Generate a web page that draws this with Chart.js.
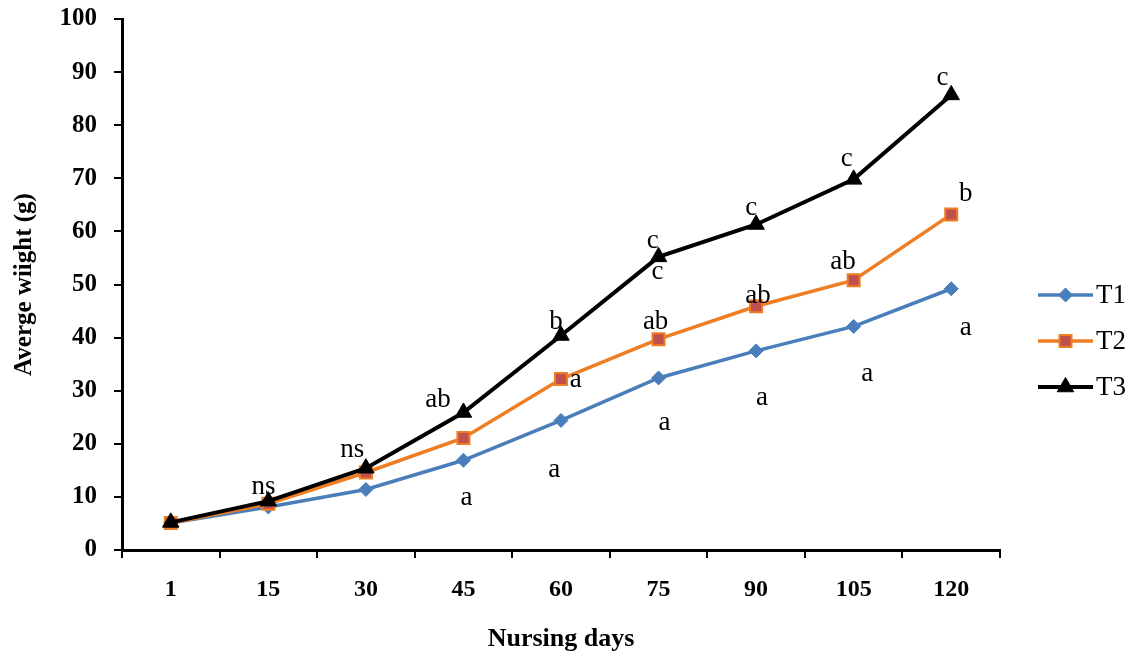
<!DOCTYPE html>
<html>
<head>
<meta charset="utf-8">
<script src="https://cdn.jsdelivr.net/npm/chart.js@4/dist/chart.umd.min.js"></script>
<style>
  html, body { margin: 0; padding: 0; background: #fff; }
  #wrap { width: 1132px; height: 657px; }
</style>
</head>
<body>
<div id="wrap"><canvas id="weightChart"></canvas></div>
<script>
// nursing days on x, mean weight (g) per treatment
const days = ['1', '15', '30', '45', '60', '75', '90', '105', '120'];
const t1 = [5.1, 8.1, 11.4, 16.9, 24.4, 32.4, 37.5, 42.1, 49.2];
const t2 = [5.1, 8.7, 14.6, 21.1, 32.2, 39.7, 45.9, 50.8, 63.2];
const t3 = [5.2, 9.2, 15.4, 25.9, 40.4, 55.2, 61.3, 69.8, 85.7];
const yTicks = [0, 10, 20, 30, 40, 50, 60, 70, 80, 90, 100];

// significance letters: [day index, weight value, text]
const letters = [
    [0.95, 11.9, 'ns'], [1.86, 18.8, 'ns'],
    [2.74, 28.2, 'ab'], [3.03, 9.8, 'a'],
    [3.95, 42.9, 'b'], [4.15, 32.0, 'a'], [3.93, 15.1, 'a'],
    [4.94, 58.2, 'c'], [4.99, 52.4, 'c'], [4.97, 42.9, 'ab'], [5.06, 23.9, 'a'],
    [5.95, 64.4, 'c'], [6.02, 47.8, 'ab'], [6.06, 28.6, 'a'],
    [6.93, 73.6, 'c'], [6.89, 54.2, 'ab'], [7.14, 33.1, 'a'],
    [7.91, 88.9, 'c'], [8.15, 67.0, 'b'], [8.15, 41.8, 'a']
];

const SERIF = '"Liberation Serif", "Times New Roman", serif';

const letterPlugin = {
    id: 'letters',
    afterDatasetsDraw(chart) {
        const { ctx, scales: { x, y } } = chart;
        ctx.save();
        ctx.fillStyle = '#000';
        ctx.font = `27px ${SERIF}`;
        ctx.textAlign = 'center';
        ctx.textBaseline = 'middle';
        letters.forEach(([i, v, txt]) => {
            ctx.fillText(txt, x.getPixelForValue(i), y.getPixelForValue(v));
        });
        ctx.restore();
    }
};

// line-with-marker legend on the right, like the office chart
const sideLegend = {
    id: 'sideLegend',
    afterDraw(chart) {
        const { ctx, chartArea } = chart;
        const x0 = chartArea.right + 38;
        let yy = 295;
        ctx.save();
        chart.data.datasets.forEach(ds => {
            ctx.strokeStyle = ds.borderColor;
            ctx.lineWidth = ds.borderWidth;
            ctx.beginPath();
            ctx.moveTo(x0, yy);
            ctx.lineTo(x0 + 55, yy);
            ctx.stroke();
            ctx.fillStyle = ds.pointBackgroundColor;
            ctx.strokeStyle = ds.pointBorderColor;
            ctx.lineWidth = ds.pointBorderWidth;
            Chart.helpers.drawPoint(ctx, { pointStyle: ds.pointStyle, radius: ds.pointRadius, borderWidth: ds.pointBorderWidth }, x0 + 27.5, yy);
            ctx.fillStyle = '#000';
            ctx.font = `27px ${SERIF}`;
            ctx.textAlign = 'left';
            ctx.textBaseline = 'middle';
            ctx.fillText(ds.label, x0 + 58, yy + 1);
            yy += 46;
        });
        ctx.restore();
    }
};

const ctx = document.getElementById('weightChart').getContext('2d');
new Chart(ctx, {
    type: 'line',
    data: {
        labels: days,
        datasets: [
            { label: 'T1', data: t1, order: 3, borderColor: '#4a7ebb', borderWidth: 3.5,
              pointStyle: 'rectRot', pointRadius: 7, pointBackgroundColor: '#4a7ebb', pointBorderColor: '#4a7ebb', pointBorderWidth: 1 },
            { label: 'T2', data: t2, order: 2, borderColor: '#ef7d22', borderWidth: 3.5,
              pointStyle: 'rect', pointRadius: 8.5, pointBackgroundColor: '#c0504d', pointBorderColor: '#ef7d22', pointBorderWidth: 2 },
            { label: 'T3', data: t3, order: 1, borderColor: '#000000', borderWidth: 4,
              pointStyle: 'triangle', pointRadius: 9.5, pointBackgroundColor: '#000000', pointBorderColor: '#000000', pointBorderWidth: 1 }
        ]
    },
    options: {
        responsive: true, maintainAspectRatio: false, animation: false,
        layout: { padding: { top: 19, right: 132, left: 0, bottom: 0 } },
        elements: { line: { tension: 0 } },
        plugins: { legend: { display: false }, tooltip: { enabled: false } },
        scales: {
            x: {
                offset: true,
                grid: { offset: true, drawOnChartArea: false, drawTicks: true, tickLength: 8, color: '#000', lineWidth: 2 },
                border: { color: '#000', width: 3 },
                ticks: { color: '#000', padding: 17, maxRotation: 0, font: { family: SERIF, size: 24, weight: 'bold' } },
                title: { display: true, text: 'Nursing days', color: '#000', padding: { top: 2, bottom: 2 },
                         font: { family: SERIF, size: 26, weight: 'bold' } },
                afterFit(scale) { scale.height = 107; }
            },
            y: {
                min: 0, max: 100,
                afterBuildTicks(scale) { scale.ticks = yTicks.map(v => ({ value: v })); },
                grid: { drawOnChartArea: false, drawTicks: true, tickLength: 8, color: '#000', lineWidth: 2 },
                border: { color: '#000', width: 3 },
                ticks: { color: '#000', padding: 17, font: { family: SERIF, size: 25, weight: 'bold' } },
                title: { display: true, text: 'Averge wiight (g)', color: '#000', padding: { top: 10, bottom: 4 },
                         font: { family: SERIF, size: 25, weight: 'bold' } },
                afterFit(scale) {
                    scale.width = 122;
                    // keep the plot top pinned by layout padding only
                    scale.paddingTop = 0;
                    scale.paddingBottom = 0;
                }
            }
        }
    },
    plugins: [letterPlugin, sideLegend]
});
</script>
</body>
</html>
